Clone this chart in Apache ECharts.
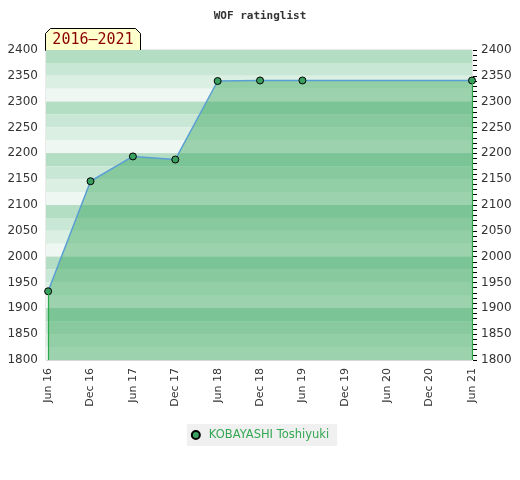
<!DOCTYPE html>
<html><head><meta charset="utf-8">
<script src="https://cdn.jsdelivr.net/npm/echarts@6/dist/echarts.min.js"></script>
<style>html,body{margin:0;padding:0;background:#fff}#c{width:520px;height:480px}</style>
</head><body><div id="c"></div>
<script>
const xLabels = ["Jun 16","Dec 16","Jun 17","Dec 17","Jun 18","Dec 18","Jun 19","Dec 19","Jun 20","Dec 20","Jun 21"];
const pointIdx = [0, 1, 2, 3, 4, 5, 6, 10];
const ratings = [1933, 2146, 2194, 2188, 2340, 2341, 2341, 2341];
const yTicks = [1800,1850,1900,1950,2000,2050,2100,2150,2200,2250,2300,2350,2400];
const playerName = "KOBAYASHI Toshiyuki";
const periodLabel = "2016–2021";
const chartTitle = "WOF ratinglist";

const yMin = yTicks[0], yMax = yTicks[yTicks.length-1];
const stripeColors = ['#b3dec4','#c9e7d5','#dcefe3','#eef7f1'];
const stripes = [];
for (let v = yMax; v > yMin; v -= 25) {
  const k = Math.round((yMax - v)/25) % 4;
  stripes.push([{yAxis: v - 25, itemStyle:{color: stripeColors[k], opacity:1}}, {yAxis: v}]);
}
const data = pointIdx.map((x,i)=>[x, ratings[i]]);
const first = data[0], last = data[data.length-1];
const fmt = v => String(v);

const chart = echarts.init(document.getElementById('c'));
chart.setOption({
  animation:false,
  title:{text:chartTitle,left:'center',top:6,textStyle:{fontFamily:'DejaVu Sans Mono',fontWeight:'bold',fontSize:11,color:'#333'}},
  grid:{left:46,right:48,top:50,bottom:120,show:true,borderColor:'#d4d4d4',borderWidth:1},
  xAxis:{type:'value',min:-0.05,max:xLabels.length-1,
    axisLine:{show:false},axisTick:{show:false},splitLine:{show:false},
    axisLabel:{customValues:xLabels.map((_,i)=>i),rotate:90,color:'#333',fontSize:11,fontFamily:'DejaVu Sans',margin:8,
      formatter:v=>xLabels[Math.round(v)]}},
  yAxis:[
    {type:'value',min:yMin,max:yMax,interval:50,position:'left',
      axisLine:{show:false},axisTick:{show:false},splitLine:{show:false},
      axisLabel:{color:'#333',fontSize:12,fontFamily:'DejaVu Sans',margin:8,formatter:fmt}},
    {type:'value',min:yMin,max:yMax,interval:50,position:'right',offset:1,
      axisLine:{show:false},axisTick:{show:true,length:4,lineStyle:{color:'#000',width:1}},
      minorTick:{show:true,splitNumber:5,length:4,lineStyle:{color:'#000',width:1}},
      splitLine:{show:false},
      axisLabel:{color:'#333',fontSize:12,fontFamily:'DejaVu Sans',margin:8,formatter:fmt}},
    {type:'value',min:yMin,max:yMax,interval:100,show:true,position:'left',
      axisLine:{show:false},axisTick:{show:false},axisLabel:{show:false},
      splitLine:{show:true,lineStyle:{color:'#d6d6d6',width:1}}}
  ],
  legend:{bottom:34,left:'center',backgroundColor:'#f0f0f0',padding:[5,8,5,4],itemWidth:16,itemHeight:8,itemGap:10,
    textStyle:{color:'#34a853',fontSize:11.5,fontFamily:'DejaVu Sans'},
    data:[{name:playerName,icon:'circle'}]},
  series:[{
    name:'bg',type:'line',data:[],yAxisIndex:0,z:0,silent:true,
    markArea:{silent:true,data:stripes}
  },{
    name:playerName,type:'line',data:data,yAxisIndex:0,
    symbol:'circle',symbolSize:7,
    itemStyle:{color:'#3aa060',borderColor:'#000',borderWidth:1},
    lineStyle:{color:'#5a9fd4',width:1.5},
    areaStyle:{color:'rgba(52,163,89,0.44)',opacity:1,origin:'start'},
    markLine:{silent:true,symbol:'none',label:{show:false},lineStyle:{color:'#2ca84a',width:1.2,type:'solid'},
      data:[[{coord:[first[0],first[1]]},{coord:[first[0],yMin]}],[{coord:[last[0],last[1]]},{coord:[last[0],yMin]}]]},
    z:3
  }],
  graphic:[{type:'group',left:45,top:28,children:[
    {type:'polygon',shape:{points:[[0,22],[0,5],[5,0],[90,0],[95,5],[95,22]]},style:{fill:'#ffffcc',stroke:'#000',lineWidth:1}},
    {type:'text',x:47.5,y:12,style:{text:periodLabel,fontFamily:'DejaVu Sans Mono',fontSize:15,fill:'#8b0000',align:'center',verticalAlign:'middle'}}
  ]}]
});
</script></body></html>
